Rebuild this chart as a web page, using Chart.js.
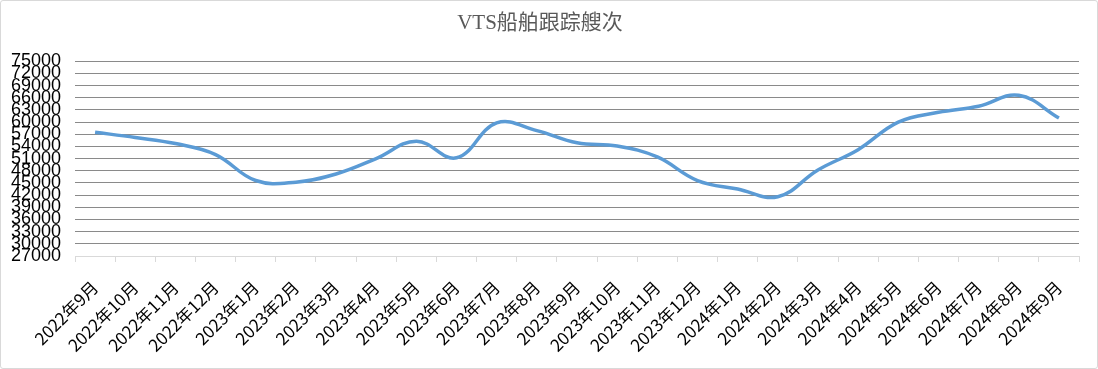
<!DOCTYPE html>
<html>
<head>
<meta charset="utf-8">
<title>VTS船舶跟踪艘次</title>
<script src="https://cdn.jsdelivr.net/npm/chart.js@4"></script>
<style>
  html, body { margin: 0; padding: 0; background: #fff; }
  .caja { position: relative; width: 1098px; height: 369px; box-sizing: border-box; border: 1px solid #d9d9d9; border-radius: 3px; }
  canvas { display: block; }
</style>
</head>
<body>
<div class="caja">
  <canvas id="graficoVts" width="1096" height="367"></canvas>
</div>
<script>
// Datos del gráfico
const meses = ['2022年9月', '2022年10月', '2022年11月', '2022年12月', '2023年1月', '2023年2月', '2023年3月',
    '2023年4月', '2023年5月', '2023年6月', '2023年7月', '2023年8月', '2023年9月', '2023年10月', '2023年11月',
    '2023年12月', '2024年1月', '2024年2月', '2024年3月', '2024年4月', '2024年5月', '2024年6月', '2024年7月',
    '2024年8月', '2024年9月'];
const sogouCiShu = [57500, 56200, 54700, 52000, 45600, 45200, 47200, 51000, 55300, 51200, 59800, 57900, 54900,
    54100, 51400, 45600, 43500, 41600, 48200, 53200, 60000, 62400, 63900, 66600, 61000];
const ejeY = [27000, 30000, 33000, 36000, 39000, 42000, 45000, 48000, 51000, 54000, 57000, 60000, 63000,
    66000, 69000, 72000, 75000];

const ctxVts = document.getElementById('graficoVts').getContext('2d');
new Chart(ctxVts, {
    type: 'line',
    data: {
        labels: meses,
        datasets: [{
            label: 'VTS船舶跟踪艘次',
            data: sogouCiShu,
            borderColor: '#5B9BD5',
            backgroundColor: '#5B9BD5',
            borderWidth: 3.5,
            tension: 0.4,
            pointRadius: 0,
            fill: false
        }]
    },
    options: {
        responsive: false,
        animation: false,
        layout: {
            padding: { left: 0, right: 18, top: 0, bottom: 0 }
        },
        plugins: {
            legend: { display: false },
            tooltip: { enabled: false },
            title: {
                display: true,
                text: 'VTS船舶跟踪艘次',
                color: '#595959',
                font: { family: '"Liberation Serif", "Noto Sans CJK SC"', size: 21, weight: 'normal' },
                padding: { top: 10, bottom: 25 }
            }
        },
        scales: {
            x: {
                offset: true,
                grid: {
                    offset: true,
                    drawOnChartArea: false,
                    drawTicks: true,
                    tickLength: 6,
                    color: '#d9d9d9'
                },
                border: { color: '#d9d9d9' },
                ticks: {
                    autoSkip: false,
                    maxRotation: 45,
                    minRotation: 45,
                    color: '#000',
                    padding: 15,
                    font: { family: '"Noto Sans CJK SC", "Noto Sans"', size: 17 }
                },
                afterFit: function(scale) {
                    scale.height = 112;
                }
            },
            y: {
                min: ejeY[0],
                max: ejeY[ejeY.length - 1],
                border: { display: false },
                grid: {
                    drawTicks: false,
                    color: function(c) {
                        return c.tick && c.tick.value === ejeY[0] ? '#d9d9d9' : '#8a8a8a';
                    }
                },
                afterBuildTicks: function(scale) {
                    scale.ticks = ejeY.map(v => ({ value: v }));
                },
                ticks: {
                    autoSkip: false,
                    color: '#000',
                    padding: 14,
                    font: { family: '"Liberation Sans", "Noto Sans"', size: 18 },
                    callback: function(value) {
                        return String(value);
                    }
                },
                afterFit: function(scale) {
                    scale.width = 74;
                }
            }
        }
    }
});
</script>
</body>
</html>
